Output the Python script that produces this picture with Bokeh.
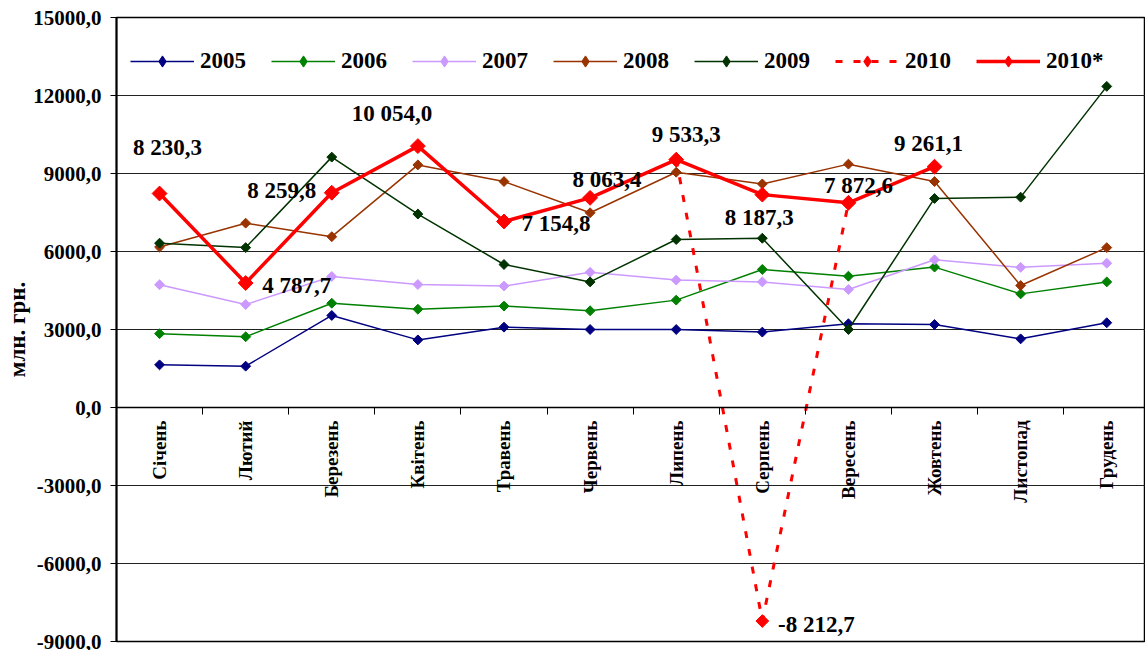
import math
import numpy as np
from bokeh.plotting import figure
from bokeh.models import Range1d, LinearAxis, FixedTicker, Legend, LegendItem, ColumnDataSource
from bokeh.core.properties import value
from bokeh.embed import file_html
from bokeh.resources import INLINE

nan = float("nan")

months = ["Січень", "Лютий", "Березень", "Квітень", "Травень", "Червень",
          "Липень", "Серпень", "Вересень", "Жовтень", "Листопад", "Грудень"]
y2005 = [1640, 1590, 3540, 2600, 3090, 3000, 3000, 2900, 3220, 3190, 2640, 3260]
y2006 = [2840, 2720, 4010, 3780, 3900, 3720, 4130, 5310, 5050, 5400, 4370, 4830]
y2007 = [4720, 3960, 5040, 4730, 4670, 5200, 4900, 4830, 4540, 5680, 5390, 5550]
y2008 = [6170, 7090, 6570, 9330, 8690, 7490, 9050, 8600, 9360, 8690, 4690, 6150]
y2009 = [6320, 6150, 9630, 7440, 5500, 4830, 6460, 6510, 3000, 8040, 8090, 12350]
y2010 = [nan, nan, nan, nan, nan, nan, 9533.3, -8212.7, 7872.6, nan, nan, nan]
y2010s = [8230.3, 4787.7, 8259.8, 10054.0, 7154.8, 8063.4, 9533.3, 8187.3, 7872.6, 9261.1, nan, nan]
yticks = [-9000, -6000, -3000, 0, 3000, 6000, 9000, 12000, 15000]

FONT = "Liberation Serif"

xs = [i + 0.5 for i in range(len(months))]

p = figure(width=1145, height=650, x_range=Range1d(0, 11.95), y_range=Range1d(-9000, 15000),
           output_backend="svg", toolbar_location=None, x_axis_location=None,
           min_border_left=116, min_border_right=0, min_border_top=17, min_border_bottom=9)
p.background_fill_color = "white"
p.border_fill_color = "white"
p.outline_line_color = "black"
p.outline_line_width = 1.5
p.xgrid.visible = False
p.ygrid.ticker = FixedTicker(ticks=yticks)
p.ygrid.grid_line_color = "#222222"
p.ygrid.grid_line_width = 1

ya = p.yaxis[0]
ya.ticker = FixedTicker(ticks=yticks)
ya.major_label_overrides = {v: f"{v:.1f}".replace(".", ",") for v in yticks}
ya.major_label_text_font = FONT
ya.major_label_text_font_style = "bold"
ya.major_label_text_font_size = "21px"
ya.major_label_text_color = "black"
ya.major_tick_out = 6
ya.major_tick_in = 0
ya.minor_tick_out = 0
ya.minor_tick_in = 0
ya.major_label_standoff = 9
ya.axis_line_width = 2
ya.axis_line_color = "black"
ya.axis_label = "млн. грн."
ya.axis_label_text_font = FONT
ya.axis_label_text_font_style = "bold"
ya.axis_label_text_font_size = "23px"
ya.axis_label_text_color = "black"
ya.axis_label_standoff = 0

xa = LinearAxis(fixed_location=0, ticker=FixedTicker(ticks=list(range(13))))
xa.major_label_overrides = {i: "" for i in range(13)}
xa.major_label_text_font_size = "1px"
xa.major_label_standoff = 0
xa.major_tick_out = 7
xa.major_tick_in = 0
xa.minor_tick_out = 0
xa.axis_line_color = "black"
xa.axis_line_width = 1.5
p.add_layout(xa, "below")

# month labels
p.text(x=xs, y=[0] * len(months), text=months, angle=math.pi / 2, y_offset=13,
       text_align="right", text_baseline="middle", text_font=value(FONT),
       text_font_style="bold", text_font_size="19px", text_color="black")

series = [
    ("2005", y2005, "#000080"),
    ("2006", y2006, "#008000"),
    ("2007", y2007, "#CC99FF"),
    ("2008", y2008, "#993300"),
    ("2009", y2009, "#003300"),
]
items = []
for name, ys, col in series:
    l = p.line(xs, ys, line_color=col, line_width=1.5)
    p.scatter(xs, ys, marker="square", angle=math.pi / 4, size=7, fill_color=col, line_color=col)
    lg = p.scatter([nan], [nan], marker="diamond", size=14, fill_color=col, line_color=col)
    items.append(LegendItem(label=name, renderers=[l, lg]))

l10 = p.line(xs, y2010, line_color="#FF0000", line_width=3, line_dash="7 11")
p.scatter(xs, y2010, marker="square", angle=math.pi / 4, size=9, fill_color="#FF0000", line_color="#FF0000")
lg10 = p.scatter([nan], [nan], marker="diamond", size=14, fill_color="#FF0000", line_color="#FF0000")
items.append(LegendItem(label="2010", renderers=[l10, lg10]))
l10s = p.line(xs, y2010s, line_color="#FF0000", line_width=3.5)
p.scatter(xs, y2010s, marker="square", angle=math.pi / 4, size=10.5, fill_color="#FF0000", line_color="#FF0000")
lg10s = p.scatter([nan], [nan], marker="diamond", size=14, fill_color="#FF0000", line_color="#FF0000")
items.append(LegendItem(label="2010*", renderers=[l10s, lg10s]))


def fmt(v):
    s = f"{abs(v):,.1f}".replace(",", " ").replace(".", ",")
    return ("-" if v < 0 else "") + s


lab_x, lab_y, lab_t = [], [], []
for x, v in zip(xs, y2010s):
    if not math.isnan(v):
        lab_x.append(x); lab_y.append(v); lab_t.append(fmt(v))
lab_x.append(xs[7]); lab_y.append(y2010[7]); lab_t.append(fmt(y2010[7]))
lab_dx = [8, 51, -50, -26, 52, 17, 10, -3, 10, -6, 54]
lab_dy = [-46, 2, -2, -33, 2, -18, -25, 23, -17, -23, 3]
src = ColumnDataSource(dict(x=lab_x, y=lab_y, t=lab_t, dx=lab_dx, dy=lab_dy))
p.text(x="x", y="y", text="t", x_offset="dx", y_offset="dy", source=src,
       text_align="center", text_baseline="middle", text_font=value(FONT),
       text_font_style="bold", text_font_size="23px", text_color="black")

legend = Legend(items=items, orientation="horizontal", location=(14, 566),
                glyph_width=64, glyph_height=28, label_width=70, label_height=20,
                label_standoff=6, spacing=1, padding=0, margin=0,
                border_line_alpha=0, background_fill_alpha=0,
                label_text_font=FONT, label_text_font_style="bold",
                label_text_font_size="23px", label_text_color="black")
p.add_layout(legend)

open("out.html", "w").write(file_html(p, INLINE))
